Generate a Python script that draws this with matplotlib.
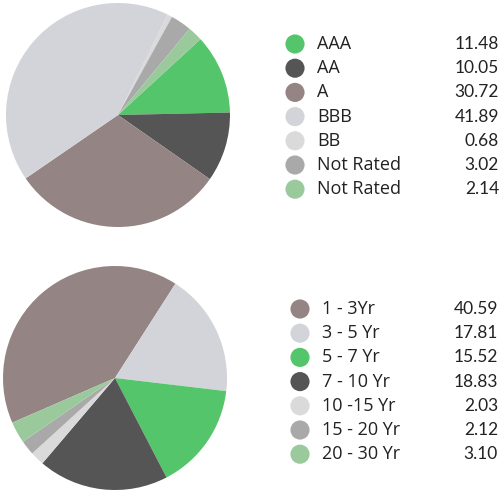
import matplotlib.pyplot as plt

rating_labels = ["AAA", "AA", "A", "BBB", "BB", "Not Rated", "Not Rated"]
rating_values = [11.48, 10.05, 30.72, 41.89, 0.68, 3.02, 2.14]
rating_colors = ["#55c56b", "#555555", "#948483", "#d3d4d9", "#dadada", "#a9a9a9", "#9aca9c"]

maturity_labels = ["1 - 3Yr", "3 - 5 Yr", "5 - 7 Yr", "7 - 10 Yr", "10 -15 Yr", "15 - 20 Yr", "20 - 30 Yr"]
maturity_values = [40.59, 17.81, 15.52, 18.83, 2.03, 2.12, 3.10]
maturity_colors = ["#948483", "#d3d4d9", "#55c56b", "#555555", "#dadada", "#a9a9a9", "#9aca9c"]

W, H = 502, 490
fig = plt.figure(figsize=(W / 100, H / 100), dpi=100)


def pie_axes(cx, cy, r):
    return fig.add_axes([(cx - r) / W, (H - cy - r) / H, 2 * r / W, 2 * r / H])


ax1 = pie_axes(118, 115, 112)
ax1.pie(rating_values, colors=rating_colors, startangle=42.6, counterclock=False,
        wedgeprops=dict(linewidth=0))
ax1.set_xlim(-1, 1)
ax1.set_ylim(-1, 1)

ax2 = pie_axes(115, 378, 112)
ax2.pie(maturity_values, colors=maturity_colors, startangle=203.5, counterclock=False,
        wedgeprops=dict(linewidth=0))
ax2.set_xlim(-1, 1)
ax2.set_ylim(-1, 1)

# legends drawn in pixel coordinates
lg = fig.add_axes([0, 0, 1, 1])
lg.set_xlim(0, W)
lg.set_ylim(H, 0)
lg.axis("off")


def legend(x_dot, x_text, x_val, y0, labels, values, colors):
    for i, (lab, val, col) in enumerate(zip(labels, values, colors)):
        y = y0 + i * 24.2
        lg.scatter(x_dot, y, s=190, color=col, edgecolors="none")
        lg.text(x_text, y, lab, fontsize=13, color="#222222", va="center", ha="left",
                family="Open Sans")
        lg.text(x_val, y, f"{val:.2f}", fontsize=12.5, color="#222222", va="center",
                ha="right", family="Lato")


legend(295, 317, 499, 44, rating_labels, rating_values, rating_colors)
legend(300, 322, 498, 309, maturity_labels, maturity_values, maturity_colors)

fig.savefig("out.png", dpi=100)
